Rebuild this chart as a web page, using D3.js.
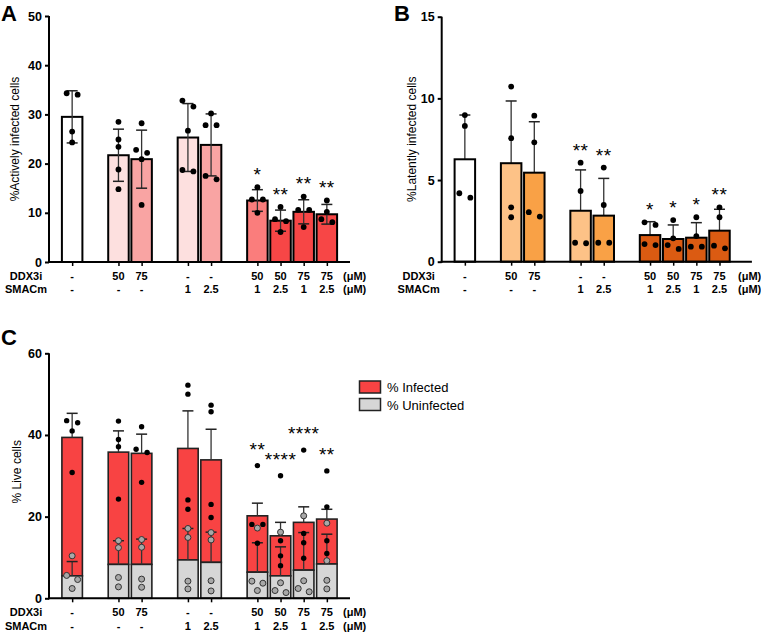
<!DOCTYPE html>
<html><head><meta charset="utf-8">
<script src="https://cdn.jsdelivr.net/npm/d3@7"></script>
<style>body{margin:0;background:#fff}svg{display:block;font-family:"Liberation Sans",Arial,sans-serif}</style>
</head><body><svg id="c" width="761" height="632"></svg>
<script>
// ---------- data ----------
const ddx3iLabels = ["-","50","75","-","-","50","50","75","75"];
const smacmLabels = ["-","-","-","1","2.5","1","2.5","1","2.5"];
const groupIndex  = [0,1,1,2,2,3,3,3,3];

// Panel A: % actively infected cells
const actMean = [29.5,21.7,20.9,25.3,23.8,12.5,8.4,10.2,9.7];
const actSD   = [5.3,5.3,5.9,6.9,6.3,2.2,2.15,2.45,2.0];
const actPoints = [[34.0,34.3,26.5,24.3],[28.5,24.9,23.4,18.8,14.8],[28.2,22.2,22.8,20.9,11.6],
  [32.8,31.6,26.7,18.4,18.7],[30.2,27.8,27.8,16.8,17.5],[15.2,12.7,12.7,10.0],
  [11.2,8.7,8.3,6.1],[13.3,10.6,10.6,7.1],[12.5,10.2,8.1,8.7]];
const actStars = ["","","","","","*","**","**","**"];
const actTicks = [0,10,20,30,40,50];

// Panel B: % latently infected cells
const latMean = [6.27,6.03,5.45,3.12,2.82,1.63,1.39,1.47,1.90];
const latSD   = [2.71,3.81,3.12,2.50,2.28,0.82,0.86,0.92,1.31];
const latPoints = [[8.98,8.31,3.92,4.19],[10.72,7.56,3.33,2.72],[8.94,7.31,2.76,3.03],
  [6.06,4.33,1.13,1.16],[5.76,3.47,1.16,1.16],[2.25,2.41,1.02,1.08],
  [2.55,1.43,0.78,1.02],[2.72,1.57,0.92,0.92],[3.33,2.72,0.82,0.98]];
const latStars = ["","","","**","**","*","*","*","**"];
const latTicks = [0,5,10,15];

// Panel C: % live cells (stacked)
const infMean = [39.4,35.8,35.5,36.7,33.9,20.2,15.3,18.6,19.4];
const infSD   = [5.9,5.2,4.7,9.2,7.5,3.1,3.3,3.8,2.4];
const uninfMean = [5.5,8.3,8.3,9.4,8.8,6.4,5.5,6.9,8.4];
const uninfSD   = [3.5,5.8,6.2,7.7,7.4,7.2,7.1,9.2,7.3];
const infPoints = [[43.0,43.5,41.0,30.8],[43.4,38.9,37.1,24.3],[42.0,36.5,35.7,28.4],
  [52.2,50.0,24.1,21.8],[47.3,45.7,23.0,19.8],[32.5,18.1,18.1,13.5],
  [30.0,14.1,10.4,8.0],[36.3,15.9,13.6,9.8],[31.2,22.4,14.1,11.0]];
const uninfPoints = [[10.4,5.6,4.6,2.4],[14.1,12.4,5.1,2.8],[14.4,12.5,4.7,2.7],
  [17.1,14.9,4.2,2.3],[16.1,14.3,4.3,1.8],[17.2,4.2,3.7,1.9],
  [16.2,3.8,1.4,1.9],[20.2,4.3,1.6,2.4],[18.4,9.2,4.4,2.3]];
const liveStars = ["","","","","","**","****","****","**"];
const liveTicks = [0,20,40,60];
const legendLabels = ["% Infected","% Uninfected"];

const colA = ["#ffffff","#fde0df","#f9a4a3","#fde0df","#f9a4a3","#fa7d7c","#f74646","#f74646","#f74646"];
const colB = ["#ffffff","#fdc287","#f9a146","#fdc287","#f9a146","#db5b12","#db5b12","#db5b12","#db5b12"];
const redC = "#f84343", grayC = "#d6d6d6";

const svg = d3.select("#c");
const slot = i => i + groupIndex[i];

// beeswarm-like spread of points with similar values
function spread(vals, y, thr, sp){
  const idx = vals.map((v,i)=>i).sort((a,b)=>vals[b]-vals[a]);
  const out = new Array(vals.length).fill(0);
  let cluster=[idx[0]];
  const flush=()=>{const n=cluster.length;cluster.forEach((k,j)=>out[k]=(j-(n-1)/2)*sp);};
  for(let j=1;j<idx.length;j++){
    if(Math.abs(y(vals[idx[j]])-y(vals[idx[j-1]]))<thr) cluster.push(idx[j]);
    else {flush(); cluster=[idx[j]];}
  }
  flush();
  return out;
}

function panel(o){
  const g = svg.append("g");
  const x = d3.scaleLinear().domain(o.xDomain).range(o.xRange);
  const y = d3.scaleLinear().domain([0,o.yMax]).range(o.yRange);
  const bw = 20.5;
  o.bars(g,x,y,bw);
  const yAx = d3.axisLeft(y).tickValues(o.ticks).tickSize(4).tickPadding(3).tickFormat(d3.format("d"));
  const ya = g.append("g").attr("transform",`translate(${o.xRange[0]},0)`).call(yAx);
  ya.select(".domain").attr("stroke","#000").attr("stroke-width",2).attr("d",`M0,${o.yRange[0]+1}V${o.yRange[1]}`);
  ya.selectAll(".tick line").attr("stroke","#000").attr("stroke-width",2);
  ya.selectAll(".tick text").attr("font-size",12.5).attr("font-weight","bold").attr("fill","#000");
  const xa = g.append("g").attr("transform",`translate(0,${o.yRange[0]})`)
    .call(d3.axisBottom(x).tickValues(d3.range(9).map(slot)).tickSize(4).tickFormat(""));
  xa.select(".domain").attr("stroke","#000").attr("stroke-width",2).attr("d",`M${o.xRange[0]-1},0H${o.xRange[1]}`);
  xa.selectAll(".tick line").attr("stroke","#000").attr("stroke-width",1.5);
  const rows=[ddx3iLabels,smacmLabels], names=["DDX3i","SMACm"];
  rows.forEach((r,ri)=>{
    const yy=o.yRange[0]+14+ri*13.3;
    g.append("text").attr("x",o.xRange[0]-23).attr("y",yy).attr("text-anchor","middle").attr("dominant-baseline","central")
      .attr("font-size",11).attr("font-weight","bold").text(names[ri]);
    r.forEach((t,i)=>g.append("text").attr("x",x(slot(i))).attr("y",yy).attr("text-anchor","middle")
      .attr("dominant-baseline","central").attr("font-size",11).attr("font-weight","bold").text(t));
    g.append("text").attr("x",o.unitX).attr("y",yy).attr("dominant-baseline","central")
      .attr("font-size",11).attr("font-weight","bold").text("(μM)");
  });
  g.append("text").attr("transform",`translate(${o.titleX},${(o.yRange[0]+o.yRange[1])/2+o.titleDy}) rotate(-90)`)
    .attr("text-anchor","middle").attr("dominant-baseline","central").attr("font-size",12).text(o.title);
  g.append("text").attr("x",o.letterX).attr("y",o.letterY).attr("font-size",22).attr("font-weight","bold").text(o.letter);
  o.stars.forEach((s,i)=>{ if(!s) return;
    const top = d3.max(o.tops(i));
    const fs=19;
    g.append("text").attr("x",x(slot(i))).attr("y",y(top)-o.starOff+0.575*fs).attr("text-anchor","middle")
      .attr("font-size",fs).attr("letter-spacing",0.5).text(s);
  });
  return {g,x,y};
}

function errBar(g,cx,y1,y2,capW){
  g.append("line").attr("x1",cx).attr("x2",cx).attr("y1",y1).attr("y2",y2).attr("stroke","#333").attr("stroke-width",1.3);
  g.append("line").attr("x1",cx-capW/2).attr("x2",cx+capW/2).attr("y1",y2).attr("y2",y2).attr("stroke","#222").attr("stroke-width",1.5);
}
function dots(g,cx,vals,y,r,fill,stroke){
  const off=spread(vals,y,6,11);
  vals.forEach((v,k)=>g.append("circle").attr("cx",cx+off[k]).attr("cy",y(v)).attr("r",r)
     .attr("fill",fill).attr("stroke",stroke||"none").attr("stroke-width",stroke?1:0));
}

// Panel A
panel({xDomain:[-1,12],xRange:[49,350],yMax:50,yRange:[262,16],ticks:actTicks,unitX:343,
  title:"%Actively infected cells",titleX:15,titleDy:0,letter:"A",letterX:1,letterY:21,
  stars:actStars,starOff:17,tops:i=>[...actPoints[i],actMean[i]+actSD[i]],
  bars:(g,x,y,bw)=>{
    actMean.forEach((m,i)=>{
      const cx=x(slot(i));
      g.append("rect").attr("x",cx-bw/2).attr("y",y(m)).attr("width",bw).attr("height",y(0)-y(m))
        .attr("fill",colA[i]).attr("stroke","#000").attr("stroke-width",2);
      errBar(g,cx,y(m-actSD[i]),y(m+actSD[i]),11);
      g.append("line").attr("x1",cx-5.5).attr("x2",cx+5.5).attr("y1",y(m-actSD[i])).attr("y2",y(m-actSD[i])).attr("stroke","#222").attr("stroke-width",1.5);
      dots(g,cx,actPoints[i],y,2.9,"#000");
    });
  }});

// Panel B
panel({xDomain:[-1,12.4],xRange:[441.7,751.9],yMax:15,yRange:[261.7,16.7],ticks:latTicks,unitX:738,
  title:"%Latently infected cells",titleX:411.7,titleDy:0,letter:"B",letterX:394,letterY:21,
  stars:latStars,starOff:17,tops:i=>[...latPoints[i],latMean[i]+latSD[i]],
  bars:(g,x,y,bw)=>{
    latMean.forEach((m,i)=>{
      const cx=x(slot(i));
      errBar(g,cx,y(m),y(m+latSD[i]),11);
      g.append("rect").attr("x",cx-bw/2).attr("y",y(m)).attr("width",bw).attr("height",y(0)-y(m))
        .attr("fill",colB[i]).attr("stroke","#000").attr("stroke-width",2);
      dots(g,cx,latPoints[i],y,2.9,"#000");
    });
  }});

// Panel C
panel({xDomain:[-1,12],xRange:[49,350],yMax:60,yRange:[598.3,353.3],ticks:liveTicks,unitX:343,
  title:"% Live cells",titleX:16.7,titleDy:-4,letter:"C",letterX:1,letterY:345,
  stars:liveStars,starOff:21,tops:i=>[...infPoints[i],...uninfPoints[i],infMean[i]+infSD[i]],
  bars:(g,x,y,bw)=>{
    infMean.forEach((m,i)=>{
      const cx=x(slot(i)), u=uninfMean[i];
      g.append("rect").attr("x",cx-bw/2).attr("y",y(m)).attr("width",bw).attr("height",y(u)-y(m))
        .attr("fill",redC).attr("stroke","#222").attr("stroke-width",1.6);
      g.append("rect").attr("x",cx-bw/2).attr("y",y(u)).attr("width",bw).attr("height",y(0)-y(u))
        .attr("fill",grayC).attr("stroke","#222").attr("stroke-width",1.6);
      errBar(g,cx,y(m),y(m+infSD[i]),11);
      errBar(g,cx,y(u),y(u+uninfSD[i]),11);
      dots(g,cx,infPoints[i],y,2.7,"#000");
      dots(g,cx,uninfPoints[i],y,3,"#a8a8a8","#333");
    });
  }});

// legend
const lg = svg.append("g");
[redC,grayC].forEach((c,k)=>{
  lg.append("rect").attr("x",359.5).attr("y",381+k*17.5).attr("width",21).attr("height",12)
    .attr("fill",c).attr("stroke","#222").attr("stroke-width",1.5);
  lg.append("text").attr("x",387).attr("y",387.3+k*18).attr("dominant-baseline","central")
    .attr("font-size",13).text(legendLabels[k]);
});
</script></body></html>
